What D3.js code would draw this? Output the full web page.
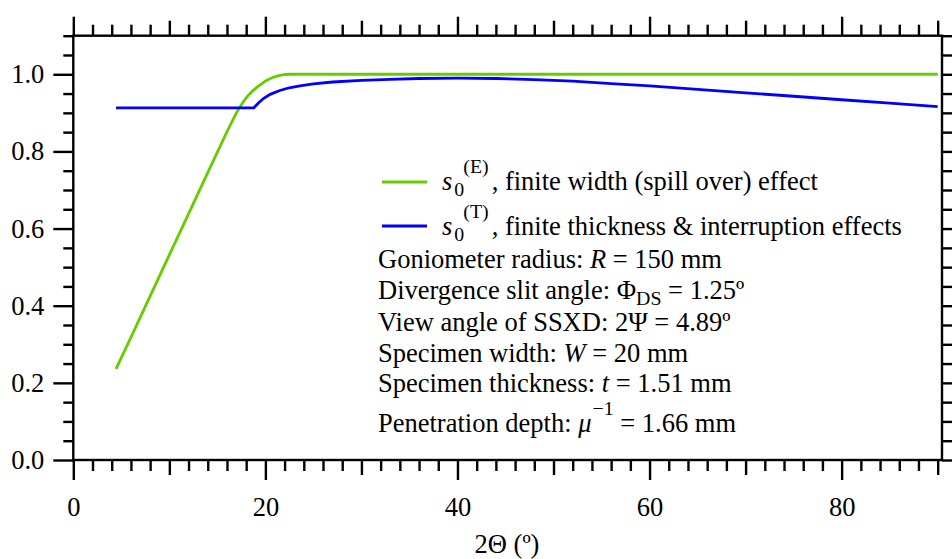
<!DOCTYPE html>
<html>
<head>
<meta charset="utf-8">
<script src="https://cdn.jsdelivr.net/npm/d3@7"></script>
<style>
  body { margin: 0; background: #fff; }
  svg text { font-family: "Liberation Serif", "Times New Roman", serif; fill: #000; white-space: pre; }
</style>
</head>
<body>
<svg id="chart" width="952" height="559"></svg>
<script>
// s0(E): finite width (spill over) factor vs 2Θ
const angleE = [4.45, 6, 8, 10, 12, 14, 15, 16, 16.6, 17.1, 17.6, 18.1, 18.6, 19.1, 19.6, 20.1, 20.7, 21.3, 21.9, 22.5, 30, 40, 50, 60, 70, 80, 90];
const valueE = [0.236, 0.318, 0.425, 0.532, 0.638, 0.745, 0.798, 0.851, 0.881, 0.905, 0.925, 0.942, 0.955, 0.966, 0.975, 0.984, 0.991, 0.996, 0.999, 1.0, 1.0, 1.0, 1.0, 1.0, 1.0, 1.0, 1.0];

// s0(T): finite thickness & interruption factor vs 2Θ
const angleT = [4.45, 18.8, 19.3, 19.8, 20.5, 21.5, 22.5, 23.6, 25, 27, 30, 33, 36, 40, 44, 48, 52, 56, 60, 65, 70, 75, 80, 85, 90];
const valueT = [0.913, 0.913, 0.926, 0.937, 0.948, 0.958, 0.965, 0.970, 0.975, 0.980, 0.984, 0.987, 0.989, 0.990, 0.989, 0.986, 0.982, 0.976, 0.970, 0.961, 0.952, 0.943, 0.934, 0.925, 0.916];

// Axis ticks
const xLabelTicks = [0, 20, 40, 60, 80];
const xMidTicks = [10, 30, 50, 70, 90];
const yLabelTicks = [0.0, 0.2, 0.4, 0.6, 0.8, 1.0];
const xTitle = "2Θ (º)";

const colorE = "#66cc00";
const colorT = "#0000ff";
const baseSize = 26.5;

const svg = d3.select("#chart");
const x = d3.scaleLinear().domain([0, 90.45]).range([73.3, 942]);
const y = d3.scaleLinear().domain([0, 1.1]).range([460, 35.7]);

const xMinor = d3.range(0, 91, 2).filter(v => !xLabelTicks.includes(v) && !xMidTicks.includes(v));
const yMinor = d3.range(0, 23).map(i => +(i * 0.05).toFixed(2)).filter(v => !yLabelTicks.some(t => Math.abs(t - v) < 1e-9));

const fmtY = d3.format(".1f");

function styleAxis(g) {
  g.select(".domain").remove();
  g.attr("font-family", null).attr("font-size", null);
  g.selectAll(".tick line").attr("stroke", "#000").attr("stroke-width", 2.4);
  g.selectAll(".tick text").attr("font-size", baseSize).attr("fill", "#000");
}

const axesG = svg.append("g");
function addX(gen, yPos) {
  axesG.append("g").attr("transform", `translate(0,${yPos})`).call(gen).call(styleAxis);
}
// Bottom axis: outward ticks in three lengths
addX(d3.axisBottom(x).tickValues(xMinor).tickSize(11).tickFormat(""), y(0));
addX(d3.axisBottom(x).tickValues(xMidTicks).tickSize(15).tickFormat(""), y(0));
addX(d3.axisBottom(x).tickValues(xLabelTicks).tickSize(20).tickPadding(17).tickFormat(d3.format("d")), y(0));
// Top axis mirrors the bottom one
addX(d3.axisTop(x).tickValues(xMinor).tickSize(11).tickFormat(""), y(1.1));
addX(d3.axisTop(x).tickValues(xMidTicks).tickSize(15).tickFormat(""), y(1.1));
addX(d3.axisTop(x).tickValues(xLabelTicks).tickSize(19).tickFormat(""), y(1.1));

function addY(gen, xPos) {
  axesG.append("g").attr("transform", `translate(${xPos},0)`).call(gen).call(styleAxis);
}
addY(d3.axisLeft(y).tickValues(yMinor).tickSize(10).tickFormat(""), x(0));
addY(d3.axisLeft(y).tickValues(yLabelTicks).tickSize(20).tickPadding(9).tickFormat(fmtY), x(0));
addY(d3.axisRight(y).tickValues(yMinor).tickSize(10).tickFormat(""), x(90.45));
addY(d3.axisRight(y).tickValues(yLabelTicks).tickSize(20).tickFormat(""), x(90.45));

// Plot frame
svg.append("rect")
  .attr("x", x(0)).attr("y", y(1.1))
  .attr("width", x(90.45) - x(0)).attr("height", y(0) - y(1.1))
  .attr("fill", "none").attr("stroke", "#000").attr("stroke-width", 2.4);

// Curves
const line = d3.line().x(d => x(d[0])).y(d => y(d[1]));
svg.append("clipPath").attr("id", "plotclip").append("rect")
  .attr("x", x(0)).attr("y", y(1.1)).attr("width", x(90.45) - x(0)).attr("height", y(0) - y(1.1));

svg.append("path")
  .datum(angleE.map((a, i) => [a, valueE[i]]))
  .attr("d", line).attr("fill", "none").attr("stroke", colorE).attr("stroke-width", 2.8)
  .attr("clip-path", "url(#plotclip)");
svg.append("path")
  .datum(angleT.map((a, i) => [a, valueT[i]]))
  .attr("d", line).attr("fill", "none").attr("stroke", colorT).attr("stroke-width", 2.8)
  .attr("clip-path", "url(#plotclip)");

// X axis title
svg.append("text").attr("x", 507).attr("y", 553).attr("text-anchor", "middle")
  .attr("font-size", baseSize).text(xTitle);

// Text line built from runs with optional sub/superscripts
function richLine(x0, y0, parts) {
  let cx = x0;
  parts.forEach(p => {
    const t = svg.append("text")
      .attr("x", cx + (p.dx || 0))
      .attr("y", y0 + (p.shift || 0))
      .attr("font-size", baseSize * (p.scale || 1))
      .attr("font-style", p.italic ? "italic" : "normal")
      .text(p.t);
    const w = t.node().getComputedTextLength();
    if (!p.stay) cx += (p.dx || 0) + w;
  });
}

// Legend
const legendItems = [
  { color: colorE, sup: "(E)", label: ", finite width (spill over) effect", ly: 182, by: 190 },
  { color: colorT, sup: "(T)", label: ", finite thickness & interruption effects", ly: 226, by: 235 }
];
legendItems.forEach(d => {
  svg.append("line").attr("x1", 382).attr("x2", 427).attr("y1", d.ly).attr("y2", d.ly)
    .attr("stroke", d.color).attr("stroke-width", 2.8);
  richLine(442, d.by, [
    { t: "s", italic: true },
    { t: "0", scale: 0.75, shift: 6, dx: 2, stay: true },
    { t: d.sup, scale: 0.75, shift: -17, dx: 11 },
    { t: d.label, dx: 3 }
  ]);
});

// Parameter annotations
richLine(378, 268, [{ t: "Goniometer radius: " }, { t: "R", italic: true }, { t: " = 150 mm" }]);
richLine(378, 299, [{ t: "Divergence slit angle: Φ" }, { t: "DS", scale: 0.75, shift: 6 }, { t: " = 1.25º" }]);
richLine(378, 331, [{ t: "View angle of SSXD: 2Ψ = 4.89º" }]);
richLine(378, 362, [{ t: "Specimen width: " }, { t: "W", italic: true }, { t: " = 20 mm" }]);
richLine(378, 392, [{ t: "Specimen thickness: " }, { t: "t", italic: true }, { t: " = 1.51 mm" }]);
richLine(378, 432, [{ t: "Penetration depth: " }, { t: "μ", italic: true }, { t: "−1", scale: 0.75, shift: -17, dx: 1 }, { t: " = 1.66 mm" }]);
</script>
</body>
</html>
